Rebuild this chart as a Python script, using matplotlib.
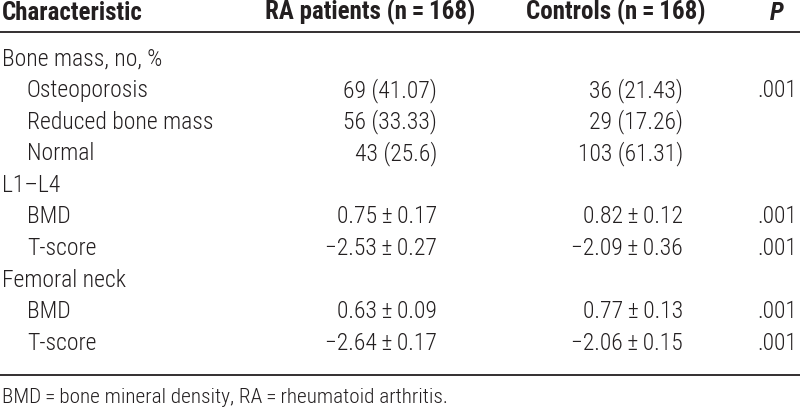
import matplotlib
matplotlib.use("Agg")
import matplotlib.pyplot as plt

FAM = ['Roboto Condensed', 'DejaVu Sans']

headers = ["Characteristic", "RA patients (n\u2009=\u2009168)", "Controls (n\u2009=\u2009168)", "P"]
labels = ["Bone mass, no, %", "Osteoporosis", "Reduced bone mass", "Normal",
          "L1\u2013L4", "BMD", "T-score", "Femoral neck", "BMD", "T-score"]
indent = [0, 1, 1, 1, 0, 1, 1, 0, 1, 1]
ra_vals = ["", "69 (41.07)", "56 (33.33)", "43 (25.6)", "",
           "0.75\u2009\u00b1\u20090.17", "\u22122.53\u2009\u00b1\u20090.27", "",
           "0.63\u2009\u00b1\u20090.09", "\u22122.64\u2009\u00b1\u20090.17"]
ctrl_vals = ["", "36 (21.43)", "29 (17.26)", "103 (61.31)", "",
             "0.82\u2009\u00b1\u20090.12", "\u22122.09\u2009\u00b1\u20090.36", "",
             "0.77\u2009\u00b1\u20090.13", "\u22122.06\u2009\u00b1\u20090.15"]
p_vals = ["", ".001", "", "", "", ".001", ".001", "", ".001", ".001"]
footnote = "BMD\u2009=\u2009bone mineral density, RA\u2009=\u2009rheumatoid arthritis."

W, H = 800, 414
fig = plt.figure(figsize=(W / 100, H / 100), dpi=100)
fig.patch.set_facecolor("white")

def fx(x):
    return x / W

def fy(y):
    return 1 - y / H

FS = 17
col = "#231f20"
kw = dict(fontsize=FS, family=FAM, color=col, va="baseline")
kh = dict(kw)
kh["fontsize"] = 18

# header
fig.text(fx(2), fy(19.5), headers[0], ha="left", fontweight="bold", **kh)
fig.text(fx(370), fy(19.5), headers[1], ha="center", fontweight="bold", **kh)
fig.text(fx(616), fy(19.5), headers[2], ha="center", fontweight="bold", **kh)
fig.text(fx(777), fy(19.5), headers[3], ha="center", fontweight="bold", style="italic", **kh)

# rules
fig.add_artist(plt.Line2D([0, 1], [fy(32.5), fy(32.5)], color=col, lw=1.3))
fig.add_artist(plt.Line2D([0, 1], [fy(376), fy(376)], color=col, lw=1.3))

y0, dy = 65.5, 31.6
for i, lab in enumerate(labels):
    y = y0 + i * dy
    fig.text(fx(2 + 25 * indent[i]), fy(y), lab, ha="left", fontweight="light", **kw)
    if ra_vals[i]:
        fig.text(fx(437), fy(y), ra_vals[i], ha="right", fontweight="light", **kw)
    if ctrl_vals[i]:
        fig.text(fx(683), fy(y), ctrl_vals[i], ha="right", fontweight="light", **kw)
    if p_vals[i]:
        fig.text(fx(797), fy(y), p_vals[i], ha="right", fontweight="light", **kw)

kw2 = dict(kw)
kw2["fontsize"] = 15.3
fig.text(fx(2), fy(403.5), footnote, ha="left", fontweight="light", **kw2)

fig.savefig("out.png", dpi=100, facecolor="white")
